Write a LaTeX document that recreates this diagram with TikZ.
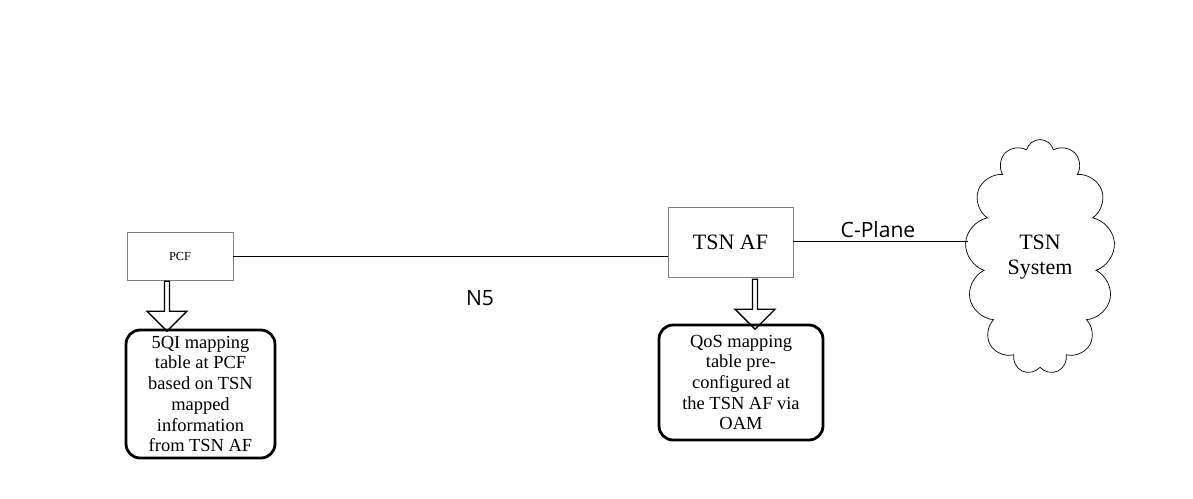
\documentclass[tikz,border=0pt]{standalone}
\usepackage{fontspec}
\setmainfont{Liberation Serif}
\newfontfamily\labelfont{Open Sans}
\usetikzlibrary{shapes.symbols,shapes.arrows}
\tikzset{
  nf/.style={draw=gray, line width=0.4pt},
  note/.style={draw, line width=1.6pt, rounded corners=8pt, align=center, font=\fontsize{10.5}{11.8}\selectfont},
  push/.style={single arrow, draw, line width=0.8pt, shape border rotate=270,
    minimum width=0.8cm, single arrow head extend=0.1cm, inner sep=0pt, minimum height=1cm},
  iface/.style={font=\labelfont\fontsize{12}{14}\selectfont}
}
\begin{document}
\begin{tikzpicture}[x=0.02cm,y=-0.02cm]
\useasboundingbox (0,0) rectangle (1193,498);
% network functions
\node[nf, minimum width=2.12cm, minimum height=0.96cm, font=\fontsize{7}{8}\selectfont] (pcf) at (180,256) {PCF};
\node[nf, minimum width=2.5cm, minimum height=1.4cm, font=\fontsize{12.5}{14}\selectfont] (af) at (730.5,242) {TSN AF};
\node[cloud, draw, cloud puffs=13, aspect=0.62, minimum width=3cm, minimum height=4.7cm, align=center,
  font=\fontsize{12.5}{14}\selectfont, inner sep=0pt] (tsn) at (1040,257) {TSN\\System};
% interfaces
\draw (pcf.east) -- (af.west |- pcf.east);
\draw (af.east |- 0,241) -- (tsn.west |- 0,241);
\node[iface] (n5) at (480,298) {N5};
\node[iface] (cp) at (878,230) {C-Plane};
% mapping tables
\node[push] (pa) at (167,305) {};
\node[note, minimum width=2.98cm, minimum height=2.56cm, inner sep=1pt] (map1) at (200.5,394) {5QI mapping\\table at PCF\\based on TSN\\mapped\\information\\from TSN AF};
\node[push] (aa) at (755,303) {};
\node[note, minimum width=3.28cm, minimum height=2.3cm] (map2) at (741,382.5) {QoS mapping\\table pre-\\configured at\\the TSN AF via\\OAM};
\end{tikzpicture}
\end{document}
